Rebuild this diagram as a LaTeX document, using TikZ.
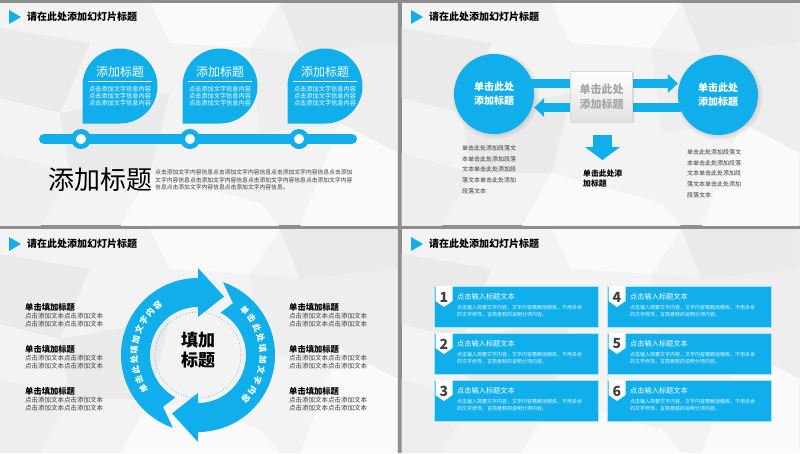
\documentclass[tikz,border=0pt]{standalone}
\usepackage{fontspec}
\setmainfont{Noto Sans CJK SC}
\usetikzlibrary{arrows.meta,calc,shadows}
\definecolor{blu}{HTML}{10AEEA}
\definecolor{framegray}{HTML}{8E8E8E}
\definecolor{paper}{HTML}{F3F3F3}
\definecolor{polyA}{HTML}{EAEAEA}
\definecolor{polyB}{HTML}{FAFAFA}
\definecolor{polyC}{HTML}{EEEEEE}
\definecolor{txtgray}{HTML}{3A3A3A}

% low-poly background of one slide
\newcommand{\lowpoly}{%
  \fill[polyA] (0,-25) -- (90,-40) -- (60,-110) -- (0,-95) -- cycle;
  \fill[polyB] (150,0) -- (280,0) -- (250,-45) -- (170,-40) -- cycle;
  \fill[polyA] (280,0) -- (398,0) -- (398,-40) -- (300,-50) -- cycle;
  \fill[polyC] (300,-50) -- (398,-40) -- (398,-150) -- (340,-120) -- cycle;
  \fill[polyC] (0,-150) -- (70,-170) -- (40,-224) -- (0,-224) -- cycle;
  \fill[polyB] (120,-224) -- (150,-170) -- (260,-200) -- (280,-224) -- cycle;
  \fill[polyA] (60,-110) -- (170,-90) -- (150,-170) -- (70,-170) -- cycle;
  \fill[polyC] (250,-45) -- (300,-50) -- (340,-120) -- (260,-130) -- cycle;
  \fill[polyB] (398,-150) -- (340,-120) -- (300,-224) -- (398,-224) -- cycle;
}

\begin{document}
\begin{tikzpicture}[x=1pt,y=1pt]
    \tikzset{ttl/.style = {anchor=west, inner sep=0, font=\fontsize{10}{12}\selectfont\bfseries}}
    \tikzset{tdot/.style = {circle, fill=white, draw=blu, line width=5, minimum size=15, inner sep=0}}
    \tikzset{phead/.style = {inner sep=0, text=white, font=\fontsize{12}{14}\selectfont}}
    \tikzset{pbody/.style = {inner sep=0, text=white, align=center, font=\fontsize{6.2}{7.3}\selectfont}}
    \tikzset{bigc/.style = {circle, fill=blu, minimum size=80, inner sep=0, text=white, align=center,
        font=\fontsize{10}{14}\selectfont\bfseries,
        circular drop shadow={shadow xshift=1pt, shadow yshift=-1pt, opacity=.3}}}
    \tikzset{gbox/.style = {rectangle, minimum width=62, minimum height=51, inner sep=0, draw=black!15,
        top color=white, bottom color=black!12, text=black!35, align=center,
        font=\fontsize{11}{15}\selectfont\bfseries,
        drop shadow={shadow xshift=1pt, shadow yshift=-1pt, opacity=.25}}}
    \tikzset{para/.style = {anchor=north west, inner sep=0, align=left, text=txtgray, font=\fontsize{6}{10.8}\selectfont}}
    \tikzset{sidehead/.style = {anchor=west, inner sep=0, font=\fontsize{8.3}{10}\selectfont\bfseries}}
    \tikzset{sidebody/.style = {anchor=west, inner sep=0, align=left, text=txtgray, font=\fontsize{6.5}{8}\selectfont}}
    \tikzset{arctxt/.style = {inner sep=0, text=white, font=\fontsize{8.3}{9}\selectfont\bfseries}}
    \tikzset{cbox/.style = {rectangle, anchor=north west, minimum width=164, minimum height=41, inner sep=0,
        fill=blu, draw=white!65!blu, line width=.8}}
    \tikzset{numtxt/.style = {inner sep=0, text=black!75, font=\fontsize{14}{16}\selectfont\bfseries}}
    \tikzset{boxhead/.style = {anchor=west, inner sep=0, text=white, font=\fontsize{7.2}{8}\selectfont}}
    \tikzset{boxbody/.style = {anchor=west, inner sep=0, align=left, text=white!92!blu, font=\fontsize{5}{7}\selectfont}}

    \useasboundingbox (0,0) rectangle (800,-453);

    % frame and slides
    \fill[framegray] (0,0) rectangle (800,-453);
    \foreach \ox/\oy/\w/\h in {0/-3/397.5/222, 401.5/-3/398.5/222, 0/-229/397.5/224, 401.5/-229/398.5/224} {
        \begin{scope}
            \clip (\ox,\oy) rectangle ++(\w,-\h);
            \fill[paper] (\ox,\oy) rectangle ++(\w,-\h);
            \begin{scope}[shift={(\ox,\oy)}]
                \lowpoly
            \end{scope}
        \end{scope}
    }

    % slide titles
    \foreach \ox/\oy/\nm in {0/0/ta, 402/0/tb, 0/-227/tc, 402/-227/td} {
        \node[ttl] (\nm) at (\ox+27,\oy-17) {请在此处添加幻灯片标题};
        \fill[blu] ($(\nm.west)+(-18,7)$) -- ($(\nm.west)+(-18,-7)$) -- ($(\nm.west)+(-6,0)$) -- cycle;
    }

    % ---- slide 1: timeline ----
    \coordinate (tl0) at (44,-139);
    \coordinate (tl1) at (352,-139);
    \draw[blu, line width=10, line cap=round] (tl0) -- (tl1);
    \foreach \cx/\nm in {81/d1, 190/d2, 299/d3}
        \node[tdot] (\nm) at (\cx,-139) {};

    \foreach \cx/\nm in {120/p1, 220/p2, 325/p3} {
        \fill[blu] (\cx-37.5,-123.5) -- (\cx-37.5,-86) arc[start angle=180, end angle=-90, radius=37.5] -- cycle;
        \node[phead] (\nm) at (\cx,-72) {添加标题};
        \draw[white, line width=.8] ($(\nm)+(-32,-9)$) -- ($(\nm)+(32,-9)$);
        \node[pbody] (\nm b) at ($(\nm)+(0,-24)$) {点击添加文字信息内容\\点击添加文字信息内容\\点击添加文字信息内容};
    }

    \node[anchor=west, inner sep=0, font=\fontsize{26}{30}\selectfont] (bigt) at (48,-180) {添加标题};
    \node[anchor=west, inner sep=0, align=left, text=txtgray, font=\fontsize{5.8}{7.4}\selectfont] (bigp) at (155,-180)
        {点击添加文字内容信息点击添加文字内容信息点击添加文字内容信息点击添加\\
         文字内容信息点击添加文字内容信息点击添加文字内容信息点击添加文字内容\\
         信息点击添加文字内容信息点击添加文字内容信息。};

    % ---- slide 2: exchange ----
    \node[bigc] (lc) at (494,-94) {单击此处\\添加标题};
    \node[bigc] (rc) at (718,-95) {单击此处\\添加标题};
    \draw[blu, line width=9, -{Triangle[length=10pt, width=19pt, line width=0pt]}]
        ([shift={(-3,10.5)}]lc.east) -- ([yshift=11.5]rc.west);
    \draw[blu, line width=9, -{Triangle[length=10pt, width=19pt, line width=0pt]}]
        ([shift={(3,-12.5)}]rc.west) -- ([yshift=-13.5]lc.east);
    \node[gbox] (mb) at (601.5,-96.5) {单击此处\\添加标题};
    \coordinate (dtip) at (602.5,-160);
    \draw[blu, line width=19, -{Triangle[length=13pt, width=35pt, line width=0pt]}]
        ([shift={(1,-13)}]mb.south) -- (dtip);
    \node[anchor=north west, inner sep=0, align=left, font=\fontsize{7.8}{10}\selectfont\bfseries] (dtxt) at (583,-170)
        {单击此处添\\加标题};
    \node[para] (lp) at (462,-145) {单击此处添加段落文\\本单击此处添加段落\\文本单击此处添加段\\落文本单击此处添加\\段落文本};
    \node[para] (rp) at (687,-149) {单击此处添加段落文\\本单击此处添加段落\\文本单击此处添加段\\落文本单击此处添加\\段落文本};

    % ---- slide 3: cycle ----
    \begin{scope}[shift={(198,-355)}]
        \fill[blu] (242:48) -- (236:62.5) -- (251:77) arc[start angle=251, end angle=90, radius=77]
            -- (90:87) -- (66:64) -- (90:38) -- (90:48) arc[start angle=90, end angle=242, radius=48] -- cycle;
        \fill[blu] (62:48) -- (56:62.5) -- (71:77) arc[start angle=71, end angle=-90, radius=77]
            -- (-90:87) -- (-114:64) -- (-90:38) -- (-90:48) arc[start angle=-90, end angle=62, radius=48] -- cycle;
        \draw[blu!70, dotted, line width=.8] (0,0) circle[radius=43];
        \node[inner sep=0, align=center, font=\fontsize{17}{20}\selectfont\bfseries] (ctr) at (0,5) {填加\\标题};
        \foreach \ch [count=\i from 0] in {单,击,此,处,填,加,文,字,内,容} {
            \pgfmathsetmacro\angl{212-9.2*\i}
            \pgfmathsetmacro\angr{44-9.6*\i}
            \node[arctxt, rotate=\angl-90] (l\i) at (\angl:64) {\ch};
            \node[arctxt, rotate=\angr-90] (r\i) at (\angr:65) {\ch};
        }
    \end{scope}
    \foreach \y [count=\k] in {307,349,391} {
        \node[sidehead] (sl\k) at (25,-\y) {单击填加标题};
        \node[sidebody] (slb\k) at (25,-\y-13) {点击添加文本点击添加文本\\点击添加文本点击添加文本};
        \node[sidehead] (sr\k) at (289,-\y) {单击填加标题};
        \node[sidebody] (srb\k) at (289,-\y-13) {点击添加文本点击添加文本\\点击添加文本点击添加文本};
    }

    % ---- slide 4: six items ----
    \foreach \n/\x/\y in {1/434/286, 2/434/333, 3/434/380, 4/607/286, 5/607/333, 6/607/380} {
        \node[cbox] (b\n) at (\x,-\y) {};
        \fill[white] ($(b\n.north west)+(1.5,0)$) -- ++(17,0) -- ++(0,-15) -- ++(-8.5,-6) -- ++(-8.5,6) -- cycle;
        \node[numtxt] (n\n) at ($(b\n.north west)+(10,-11)$) {\n};
        \node[boxhead] (h\n) at ($(b\n.north west)+(23,-11)$) {点击输入标题文本};
        \node[boxbody] (x\n) at ($(b\n.north west)+(23,-25.5)$)
            {点击输入简要文字内容，文字内容需概括精炼，不用多余\\的文字修饰，言简意赅的说明分项内容。};
    }
\end{tikzpicture}
\end{document}
